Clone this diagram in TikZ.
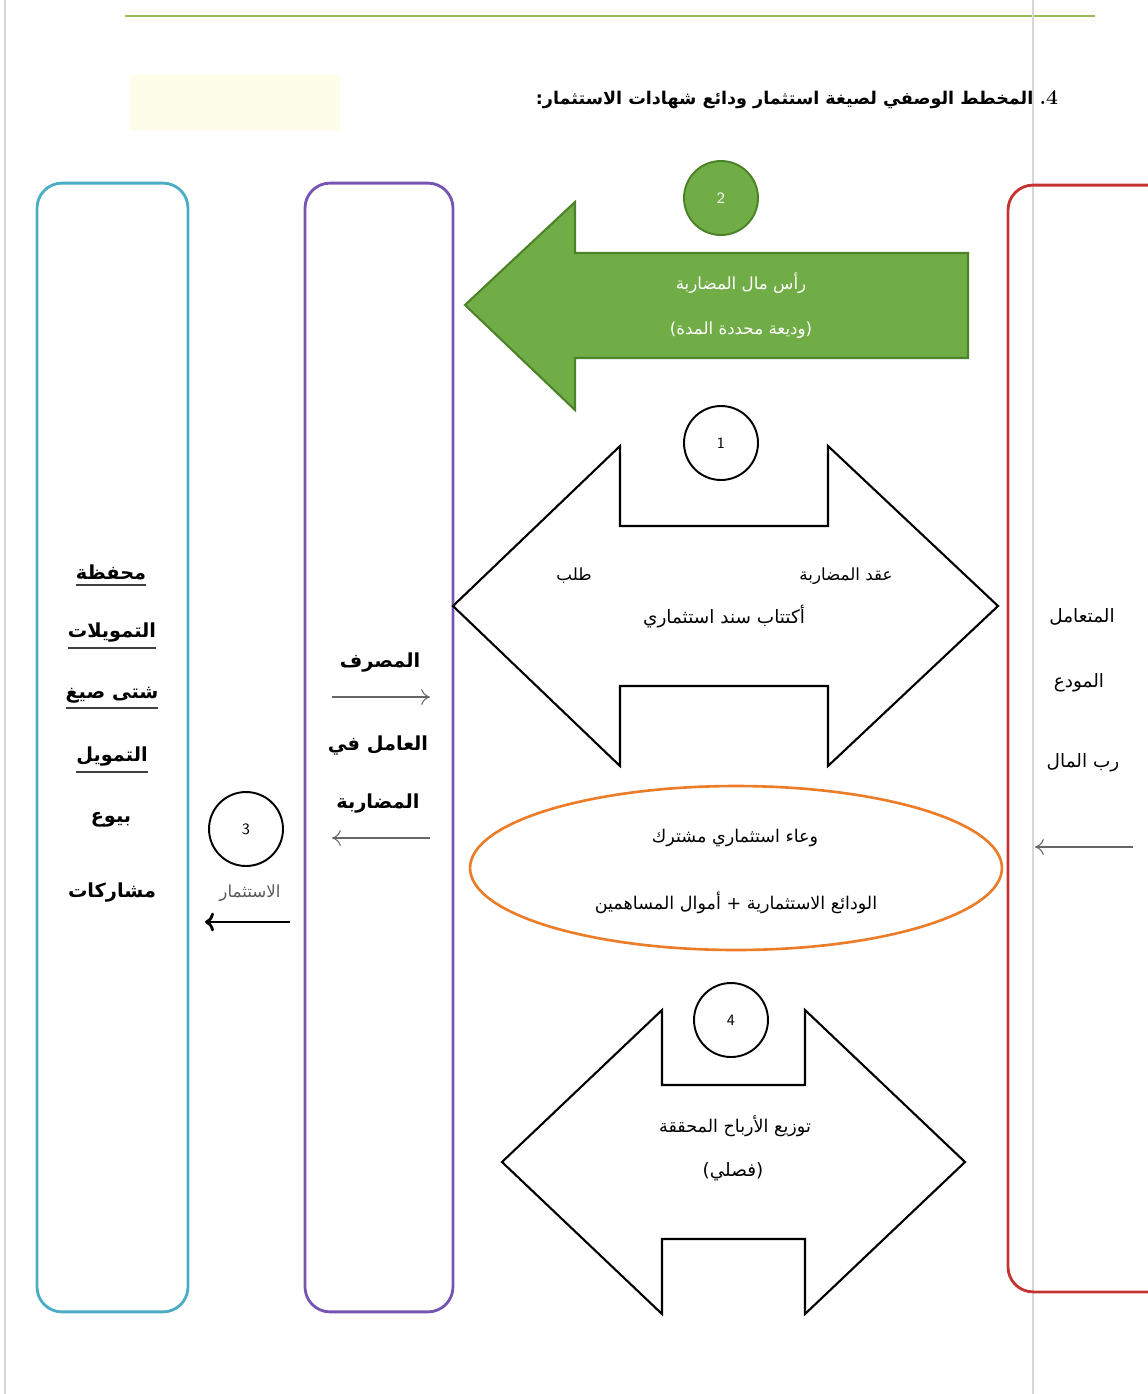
\documentclass[tikz,border=0pt]{standalone}
\usepackage{fontspec}
\newfontfamily\arabicfont[Script=Arabic]{DejaVu Sans}
\TeXXeTstate=1
\usepackage{tikz}
\usetikzlibrary{positioning}
\usetikzlibrary{shapes.geometric}
\usetikzlibrary{arrows.meta}
\definecolor{pagerule}{RGB}{155,187,89}
\definecolor{edgegray}{RGB}{215,215,215}
\definecolor{paleyellow}{RGB}{254,254,232}
\definecolor{aquabox}{RGB}{75,172,198}
\definecolor{bankviolet}{RGB}{118,84,180}
\definecolor{clientred}{RGB}{196,50,50}
\definecolor{poolorange}{RGB}{236,125,40}
\definecolor{capgreen}{RGB}{112,173,71}
\definecolor{capgreendark}{RGB}{76,130,40}
\newcommand{\artx}[1]{\beginR #1\endR}

\begin{document}
\begin{tikzpicture}[x=0.02cm,y=-0.02cm,every node/.style={inner sep=0,outer sep=0},
	panel/.style={draw,rounded corners=0.5cm,line width=1.6pt},
	numc/.style={circle,draw,line width=1.1pt,minimum size=1.48cm,font=\sffamily\small},
	outl/.style={draw,line width=1.2pt,line join=miter},
	lbl/.style={font=\arabicfont\fontsize{9.5}{11}\selectfont},
	lblbig/.style={font=\arabicfont\fontsize{11}{13}\selectfont\bfseries},
	flowarr/.style={-{To[length=5pt,width=9pt]},draw=black!60,line width=0.6pt},
	ulin/.style={draw=black!75,line width=1pt}]
	\useasboundingbox (0,0) rectangle (1148,1394);
	% page decoration
	\fill[paleyellow] (130,75) rectangle (340,130);
	\draw[pagerule,line width=1.2pt] (125,16) -- (1095,16);
	\draw[edgegray,line width=0.6pt] (5,0) -- (5,1394);
	\draw[edgegray,line width=0.6pt] (1033,0) -- (1033,1394);
	\node[anchor=east,font=\arabicfont\fontsize{10}{12}\selectfont\bfseries] (title) at (1058,100)
		{\artx{المخطط الوصفي لصيغة استثمار ودائع شهادات الاستثمار:}\ {\normalfont\fontsize{12}{14}\selectfont\bfseries .4}};
	% the three parties
	\node[panel,draw=aquabox,minimum width=3.02cm,minimum height=22.58cm] (pf) at (112.5,747.5) {};
	\node[panel,draw=bankviolet,minimum width=2.96cm,minimum height=22.58cm] (bank) at (379,747.5) {};
	\node[panel,draw=clientred,minimum width=3.4cm,minimum height=22.14cm] (client) at (1093,738.5) {};
	% step 2
	\node[numc,draw=capgreendark,fill=capgreen,text=white] (c2) at (721,198) {2};
	\draw[outl,draw=capgreendark,fill=capgreen] (465,305) -- (575,202) -- (575,253) -- (968,253)
		-- (968,358) -- (575,358) -- (575,410) -- cycle;
	\node[lbl,text=white] (g1) at (741,283) {\artx{رأس مال المضاربة}};
	\node[lbl,text=white] (g2) at (741,330) {\artx{(وديعة محددة المدة)}};
	% step 1
	\node[numc] (c1) at (721,443) {1};
	\draw[outl] (453,606) -- (620,446) -- (620,526) -- (828,526) -- (828,446) -- (998,606)
		-- (828,766) -- (828,686) -- (620,686) -- (620,766) -- cycle;
	\node[lbl] (a1) at (846,576) {\artx{عقد المضاربة}};
	\node[lbl] (a2) at (574,576) {\artx{طلب}};
	\node[lbl,font=\arabicfont\fontsize{10.5}{12}\selectfont] (a3) at (724,617) {\artx{أكتتاب سند استثماري}};
	% pool
	\node[ellipse,draw=poolorange,line width=1.5pt,minimum width=10.64cm,minimum height=3.28cm] (pool) at (736,868) {};
	\node[lbl,font=\arabicfont\fontsize{10}{12}\selectfont] (p1) at (735,838) {\artx{وعاء استثماري مشترك}};
	\node[lbl,font=\arabicfont\fontsize{10}{12}\selectfont] (p2) at (736,903) {\artx{الودائع الاستثمارية + أموال المساهمين}};
	% step 4
	\node[numc] (c4) at (731,1020) {4};
	\draw[outl] (502,1162) -- (662,1010) -- (662,1085) -- (805,1085) -- (805,1010) -- (965,1162)
		-- (805,1314) -- (805,1239) -- (662,1239) -- (662,1314) -- cycle;
	\node[lbl,font=\arabicfont\fontsize{10}{12}\selectfont] (d1) at (735,1126) {\artx{توزيع الأرباح المحققة}};
	\node[lbl,font=\arabicfont\fontsize{10.5}{12}\selectfont] (d2) at (733,1172) {\artx{(فصلي)}};
	% step 3
	\node[numc] (c3) at (246,829) {3};
	\node[lbl,text=black!65,font=\arabicfont\fontsize{9.5}{11}\selectfont] (inv) at (250,893) {\artx{الاستثمار}};
	\coordinate (inv0) at (290,922);
	\coordinate (inv1) at (205,922);
	\draw[->,line width=1.6pt] (inv0) -- (inv1);
	% bank labels
	\node[lblbig] (b1) at (380,663) {\artx{المصرف}};
	\node[lblbig] (b2) at (378,746) {\artx{العامل في}};
	\node[lblbig] (b3) at (378,804) {\artx{المضاربة}};
	\coordinate (br0) at (332,697);
	\coordinate (br1) at (430,697);
	\coordinate (bl0) at (430,838);
	\coordinate (bl1) at (332,838);
	\draw[flowarr] (br0) -- (br1);
	\draw[flowarr] (bl0) -- (bl1);
	% portfolio labels
	\node[lblbig] (l1) at (111,572) {\artx{محفظة}};
	\node[lblbig] (l2) at (112,633) {\artx{التمويلات}};
	\node[lblbig] (l3) at (112,695) {\artx{شتى صيغ}};
	\node[lblbig] (l4) at (112,757) {\artx{التمويل}};
	\node[lblbig] (l5) at (111,820) {\artx{بيوع}};
	\node[lblbig] (l6) at (112,893) {\artx{مشاركات}};
	\foreach \n in {l1,l2,l3,l4}
		\draw[ulin] ([yshift=-3pt]\n.south west) -- ([yshift=-3pt]\n.south east);
	% client labels
	\node[lblbig,font=\arabicfont\fontsize{10.5}{12}\selectfont] (r1) at (1082,617) {\artx{المتعامل}};
	\node[lblbig,font=\arabicfont\fontsize{10.5}{12}\selectfont] (r2) at (1079,683) {\artx{المودع}};
	\node[lblbig,font=\arabicfont\fontsize{10.5}{12}\selectfont] (r3) at (1083,763) {\artx{رب المال}};
	\coordinate (cl0) at (1133,847);
	\coordinate (cl1) at (1035,847);
	\draw[flowarr] (cl0) -- (cl1);
\end{tikzpicture}
\end{document}
